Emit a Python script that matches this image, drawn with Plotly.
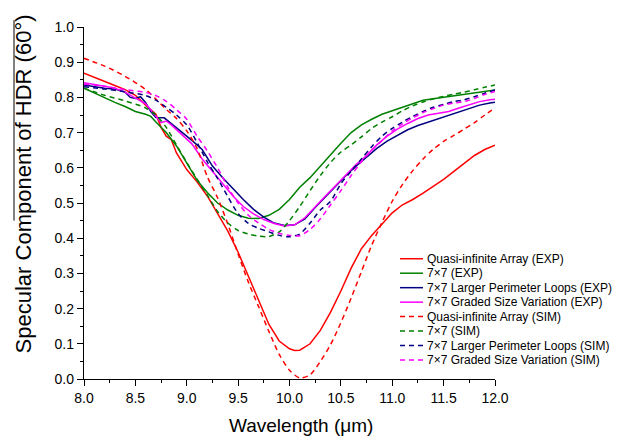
import plotly.graph_objects as go

# ---------------- data ----------------
series_names = [
    "Quasi-infinite Array (EXP)",
    "7×7 (EXP)",
    "7×7 Larger Perimeter Loops (EXP)",
    "7×7 Graded Size Variation (EXP)",
    "Quasi-infinite Array (SIM)",
    "7×7 (SIM)",
    "7×7 Larger Perimeter Loops (SIM)",
    "7×7 Graded Size Variation (SIM)",
]

wl_red_exp = [8.0, 8.1, 8.2, 8.3, 8.4, 8.5, 8.6, 8.7, 8.75, 8.8, 8.85, 8.9, 9.0, 9.1, 9.2, 9.3,
              9.4, 9.5, 9.6, 9.7, 9.8, 9.9, 10.0, 10.05, 10.1, 10.2, 10.3, 10.4, 10.5, 10.6,
              10.7, 10.8, 10.9, 11.0, 11.1, 11.2, 11.3, 11.4, 11.5, 11.6, 11.7, 11.8, 11.9, 12.0]
val_red_exp = [0.869, 0.858, 0.845, 0.834, 0.822, 0.806, 0.778, 0.752, 0.715, 0.690, 0.680, 0.642,
               0.595, 0.560, 0.520, 0.472, 0.420, 0.360, 0.290, 0.222, 0.155, 0.108, 0.086, 0.081,
               0.082, 0.100, 0.138, 0.190, 0.250, 0.315, 0.370, 0.408, 0.440, 0.472, 0.495, 0.510,
               0.528, 0.548, 0.567, 0.590, 0.612, 0.635, 0.652, 0.664]

wl_green_exp = [8.0, 8.1, 8.2, 8.3, 8.4, 8.5, 8.6, 8.65, 8.7, 8.8, 8.9, 9.0, 9.1, 9.2, 9.3, 9.4,
                9.5, 9.6, 9.7, 9.8, 9.9, 10.0, 10.1, 10.2, 10.3, 10.4, 10.5, 10.6, 10.7, 10.8,
                10.9, 11.0, 11.1, 11.2, 11.3, 11.4, 11.5, 11.6, 11.7, 11.8, 11.9, 12.0]
val_green_exp = [0.826, 0.812, 0.798, 0.786, 0.774, 0.760, 0.752, 0.746, 0.730, 0.700, 0.662,
                 0.612, 0.565, 0.530, 0.500, 0.480, 0.465, 0.457, 0.456, 0.465, 0.482, 0.510,
                 0.545, 0.572, 0.605, 0.636, 0.670, 0.700, 0.722, 0.738, 0.752, 0.762, 0.772,
                 0.782, 0.792, 0.796, 0.800, 0.804, 0.810, 0.814, 0.817, 0.821]

wl_navy_exp = [8.0, 8.1, 8.2, 8.3, 8.4, 8.45, 8.5, 8.55, 8.6, 8.65, 8.7, 8.78, 8.85, 8.95, 9.05,
               9.15, 9.25, 9.35, 9.45, 9.55, 9.65, 9.75, 9.85, 9.95, 10.05, 10.15, 10.25, 10.35,
               10.45, 10.55, 10.65, 10.75, 10.85, 10.95, 11.05, 11.15, 11.25, 11.35, 11.45, 11.55,
               11.65, 11.75, 11.85, 11.95, 12.0]
val_navy_exp = [0.835, 0.830, 0.826, 0.824, 0.815, 0.800, 0.797, 0.802, 0.785, 0.760, 0.743,
                0.742, 0.726, 0.703, 0.678, 0.652, 0.605, 0.572, 0.540, 0.510, 0.482, 0.460,
                0.443, 0.436, 0.438, 0.455, 0.487, 0.518, 0.550, 0.578, 0.605, 0.630, 0.655,
                0.676, 0.693, 0.708, 0.720, 0.730, 0.738, 0.748, 0.758, 0.770, 0.778, 0.784, 0.786]

wl_mag_exp = [8.0, 8.1, 8.2, 8.3, 8.4, 8.5, 8.6, 8.65, 8.7, 8.75, 8.8, 8.85, 8.95, 9.05, 9.15,
              9.25, 9.35, 9.45, 9.55, 9.65, 9.75, 9.85, 9.95, 10.05, 10.15, 10.25, 10.35, 10.45,
              10.55, 10.65, 10.75, 10.85, 10.95, 11.05, 11.15, 11.25, 11.35, 11.45, 11.55, 11.65,
              11.75, 11.85, 11.95, 12.0]
val_mag_exp = [0.842, 0.838, 0.832, 0.826, 0.815, 0.798, 0.782, 0.765, 0.745, 0.728, 0.733,
               0.722, 0.695, 0.668, 0.625, 0.590, 0.553, 0.520, 0.490, 0.469, 0.453, 0.442,
               0.435, 0.438, 0.458, 0.490, 0.520, 0.550, 0.580, 0.610, 0.635, 0.665, 0.690,
               0.710, 0.726, 0.740, 0.750, 0.755, 0.760, 0.770, 0.780, 0.788, 0.793, 0.795]

wl_sim = [8.0, 8.2, 8.4, 8.6, 8.7, 8.8, 8.9, 9.0, 9.1, 9.2, 9.3, 9.4, 9.5, 9.6, 9.7, 9.8, 9.9,
          10.0, 10.1, 10.2, 10.3, 10.4, 10.5, 10.6, 10.7, 10.8, 10.9, 11.0, 11.1, 11.2, 11.3,
          11.4, 11.5, 11.6, 11.7, 11.8, 11.9, 12.0]
val_red_sim = [0.911, 0.889, 0.860, 0.822, 0.795, 0.766, 0.740, 0.705, 0.655, 0.575, 0.515,
               0.440, 0.355, 0.275, 0.205, 0.135, 0.070, 0.025, 0.003, 0.012, 0.050, 0.098,
               0.160, 0.230, 0.305, 0.380, 0.445, 0.505, 0.553, 0.592, 0.625, 0.653, 0.675,
               0.692, 0.710, 0.728, 0.750, 0.770]
val_green_sim = [0.826, 0.806, 0.790, 0.770, 0.750, 0.715, 0.665, 0.615, 0.568, 0.523, 0.476,
                 0.443, 0.422, 0.412, 0.406, 0.405, 0.418, 0.450, 0.490, 0.535, 0.578, 0.615,
                 0.645, 0.665, 0.688, 0.712, 0.730, 0.745, 0.762, 0.776, 0.787, 0.796, 0.803,
                 0.809, 0.815, 0.822, 0.829, 0.835]
val_navy_sim = [0.830, 0.824, 0.816, 0.805, 0.792, 0.772, 0.750, 0.722, 0.672, 0.617, 0.570,
                0.518, 0.470, 0.442, 0.428, 0.418, 0.408, 0.404, 0.412, 0.443, 0.480, 0.505,
                0.555, 0.590, 0.625, 0.660, 0.690, 0.712, 0.730, 0.746, 0.760, 0.772, 0.780,
                0.788, 0.793, 0.802, 0.812, 0.821]
val_mag_sim = [0.838, 0.832, 0.822, 0.814, 0.805, 0.789, 0.765, 0.738, 0.690, 0.648, 0.600,
               0.545, 0.500, 0.465, 0.443, 0.425, 0.414, 0.408, 0.407, 0.425, 0.455, 0.495,
               0.535, 0.578, 0.617, 0.650, 0.677, 0.705, 0.725, 0.742, 0.757, 0.768, 0.778,
               0.784, 0.788, 0.797, 0.808, 0.817]

x_ticks = [8.0, 8.5, 9.0, 9.5, 10.0, 10.5, 11.0, 11.5, 12.0]
y_ticks = [0.0, 0.1, 0.2, 0.3, 0.4, 0.5, 0.6, 0.7, 0.8, 0.9, 1.0]
x_title = "Wavelength (μm)"
y_title = "Specular Component of HDR (60°)"

# ---------------- styling ----------------
RED, GREEN, NAVY, MAG = "#FF0000", "#008000", "#000080", "#FF00FF"
series = [
    (wl_red_exp, val_red_exp, RED, "solid"),
    (wl_green_exp, val_green_exp, GREEN, "solid"),
    (wl_navy_exp, val_navy_exp, NAVY, "solid"),
    (wl_mag_exp, val_mag_exp, MAG, "solid"),
    (wl_sim, val_red_sim, RED, "5px,4px"),
    (wl_sim, val_green_sim, GREEN, "5px,4px"),
    (wl_sim, val_navy_sim, NAVY, "5px,4px"),
    (wl_sim, val_mag_sim, MAG, "5px,4px"),
]

FONT = "Arial, 'Liberation Sans', sans-serif"
# the page body keeps its default 8px margin, so the figure is 8px smaller than the window
W, H = 617, 429
L, R, T, B = 76, 130, 11, 58
PW, PH = W - L - R, H - T - B

fig = go.Figure()
for (xs, ys, col, dash), name in zip(series, series_names):
    fig.add_trace(go.Scatter(
        x=xs, y=ys, mode="lines", name=name, showlegend=False,
        line=dict(color=col, width=1.5, dash=dash,
                  shape="linear" if dash == "solid" else "spline", smoothing=0.8),
    ))

def px2paper_x(px):
    return (px - L) / PW

def px2paper_y(py):
    return (H - B - py) / PH

# manual legend (compact row spacing like the reference)
shapes = []
annotations = []
leg_line_x0, leg_line_x1, leg_text_x = 392, 415, 417
leg_y0, leg_dy = 248, 14.8
for i, ((xs, ys, col, dash), name) in enumerate(zip(series, series_names)):
    yy = px2paper_y(leg_y0 + i * leg_dy)
    shapes.append(dict(type="line", xref="paper", yref="paper",
                       x0=px2paper_x(leg_line_x0), x1=px2paper_x(leg_line_x1), y0=yy, y1=yy,
                       line=dict(color=col, width=1.5, dash=dash)))
    annotations.append(dict(xref="paper", yref="paper", x=px2paper_x(leg_text_x), y=yy,
                            text=name, showarrow=False, xanchor="left", yanchor="middle",
                            font=dict(family=FONT, size=12, color="black")))

# axis titles
annotations.append(dict(xref="paper", yref="paper", x=px2paper_x(15), y=px2paper_y(172),
                        text=y_title, textangle=-90, showarrow=False,
                        xanchor="center", yanchor="middle",
                        font=dict(family=FONT, size=22, color="black")))
annotations.append(dict(xref="paper", yref="paper", x=px2paper_x(293), y=px2paper_y(419),
                        text=x_title, showarrow=False,
                        xanchor="center", yanchor="middle",
                        font=dict(family=FONT, size=19, color="black")))

# overline beside the y-axis title
shapes.append(dict(type="line", xref="paper", yref="paper",
                   x0=px2paper_x(6), x1=px2paper_x(6), y0=px2paper_y(4), y1=px2paper_y(209),
                   line=dict(color="black", width=1)))

fig.update_layout(
    width=W, height=H,
    margin=dict(l=L, r=R, t=T, b=B, pad=0),
    paper_bgcolor="white", plot_bgcolor="white",
    font=dict(family=FONT, color="black"),
    shapes=shapes, annotations=annotations,
    showlegend=False,
)
fig.update_xaxes(
    range=[8, 12], tickvals=x_ticks, ticktext=[f"{v:.1f}" for v in x_ticks],
    showline=True, linecolor="black", linewidth=1.3, mirror=False,
    ticks="outside", ticklen=6, tickwidth=1.2, tickcolor="black",
    minor=dict(dtick=0.25, tick0=8, ticks="outside", ticklen=3, tickwidth=1.2, tickcolor="black"),
    showgrid=False, zeroline=False,
    tickfont=dict(size=14, family=FONT),
)
fig.update_yaxes(
    range=[0, 1.0], tickvals=y_ticks, ticktext=[f"{v:.1f}" for v in y_ticks],
    showline=True, linecolor="black", linewidth=1.3, mirror=False,
    ticks="outside", ticklen=6, tickwidth=1.2, tickcolor="black",
    minor=dict(dtick=0.05, tick0=0, ticks="outside", ticklen=3, tickwidth=1.2, tickcolor="black"),
    showgrid=False, zeroline=False,
    tickfont=dict(size=14, family=FONT),
)

fig.write_html("out.html")
